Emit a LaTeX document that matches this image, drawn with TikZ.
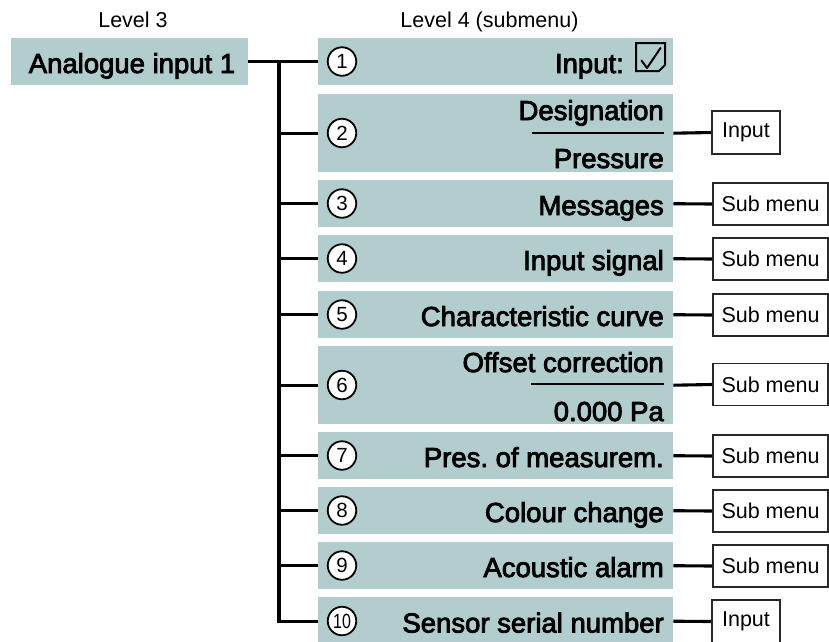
\documentclass[tikz,border=0pt]{standalone}
\usepackage{fontspec}
\setmainfont{Liberation Sans}
\newfontfamily\labf[FakeBold=3]{Liberation Sans}
\usetikzlibrary{calc}
\frenchspacing
\definecolor{boxfill}{RGB}{178,205,206}
\definecolor{subframe}{RGB}{40,40,40}
\tikzset{
  lvbox/.style={fill=boxfill, draw=none, rectangle, inner sep=0pt, anchor=north west, minimum width=355pt},
  lab/.style={font=\labf\fontsize{27.5}{30}\selectfont, inner sep=0pt},
  lvl/.style={font=\fontsize{21.5}{24}\selectfont, inner sep=0pt, anchor=base},
  num/.style={circle, draw=black, fill=white, line width=1.8pt, minimum size=28.5pt, inner sep=0pt, font=\fontsize{20.5}{22}\selectfont},
  conn/.style={line width=3.1pt, draw=black},
  sub/.style={rectangle, draw=subframe, line width=1.6pt, fill=white, minimum height=42pt, minimum width=115pt, inner sep=0pt, font=\fontsize{21.5}{24}\selectfont},
  inp/.style={sub, minimum width=68pt, minimum height=43pt},
  divider/.style={line width=1.6pt, draw=black}
}
\begin{document}
\begin{tikzpicture}[x=1pt,y=-1pt]
\clip (0,0) rectangle (829,641);
\useasboundingbox (0,0) rectangle (829,641);
\fill[white] (0,0) rectangle (829,641);

% level labels
\node[lvl] (l3) at (133,27.5) {Level 3};
\node[lvl] (l4) at (489.5,27.5) {Level 4 (submenu)};

% level 3 box
\node[lvbox, minimum width=237pt, minimum height=47pt] (A) at (11,38) {};
\node[lab, anchor=base] (At) at (132,73) {Analogue input 1};

% level 4 boxes
\node[lvbox, minimum height=47pt] (b1) at (318,38) {};
\node[lvbox, minimum height=78pt] (b2) at (318,94) {};
\node[lvbox, minimum height=47pt] (b3) at (318,180) {};
\node[lvbox, minimum height=47pt] (b4) at (318,235) {};
\node[lvbox, minimum height=47pt] (b5) at (318,291) {};
\node[lvbox, minimum height=78pt] (b6) at (318,346) {};
\node[lvbox, minimum height=47pt] (b7) at (318,432) {};
\node[lvbox, minimum height=47pt] (b8) at (318,487) {};
\node[lvbox, minimum height=47pt] (b9) at (318,542) {};
\node[lvbox, minimum height=48pt] (b10) at (318,597) {};

% numbers
\node[num] (n1) at (342,61.5) {1};
\node[num] (n2) at (342,133) {2};
\node[num] (n3) at (342,203.5) {3};
\node[num] (n4) at (342,258.5) {4};
\node[num] (n5) at (342,314.5) {5};
\node[num] (n6) at (342,385) {6};
\node[num] (n7) at (342,455.5) {7};
\node[num] (n8) at (342,510.5) {8};
\node[num] (n9) at (342,565.5) {9};
\node[num] (n10) at (342,621) {\scalebox{0.78}[1]{10}};

% texts
\node[lab, anchor=base east] (t1) at (624,73) {Input:};
\draw[line width=2pt, line join=miter] (636,43) -- (665,43) -- (665,65) -- (659,71) -- (636,71) -- cycle;
\draw[line width=2pt, line join=round, line cap=round] (641.5,60.5) -- (647,68) -- (660.5,48);

\node[lab, anchor=base east] (t2a) at (664,120) {Designation};
\draw[divider] (532,133) -- (664,133);
\node[lab, anchor=base east] (t2b) at (664,168) {Pressure};
\node[lab, anchor=base east] (t3) at (664,215) {Messages};
\node[lab, anchor=base east] (t4) at (664,270) {Input signal};
\node[lab, anchor=base east] (t5) at (664,326) {Characteristic curve};
\node[lab, anchor=base east] (t6a) at (664,372) {Offset correction};
\draw[divider] (531,384) -- (664,384);
\node[lab, anchor=base east] (t6b) at (664,421) {0.000 Pa};
\node[lab, anchor=base east] (t7) at (664,467) {Pres. of measurem.};
\node[lab, anchor=base east] (t8) at (664,522) {Colour change};
\node[lab, anchor=base east] (t9) at (664,577) {Acoustic alarm};
\node[lab, anchor=base east] (t10) at (664,632.5) {Sensor serial number};

% right-hand boxes
\node[inp] (s2) at (746,132.5) {Input};
\node[sub] (s3) at (770.5,204) {Sub menu};
\node[sub] (s4) at (770.5,259) {Sub menu};
\node[sub] (s5) at (770.5,315) {Sub menu};
\node[sub] (s6) at (770.5,384.5) {Sub menu};
\node[sub] (s7) at (770.5,456) {Sub menu};
\node[sub] (s8) at (770.5,511) {Sub menu};
\node[sub] (s9) at (770.5,566) {Sub menu};
\node[inp] (s10) at (746,621.5) {Input};

% connectors left
\coordinate (tr) at (279,61.5);
\draw[conn] (A.east) -- (b1.west);
\draw[conn, line join=miter] (tr) |- (b10.west);
\foreach \i in {2,...,9}{
  \draw[conn] (tr |- b\i.west) -- (b\i.west);
}

% connectors right
\foreach \i in {2,...,10}{
  \draw[conn] (b\i.east) -- (s\i.west);
}
\end{tikzpicture}
\end{document}
